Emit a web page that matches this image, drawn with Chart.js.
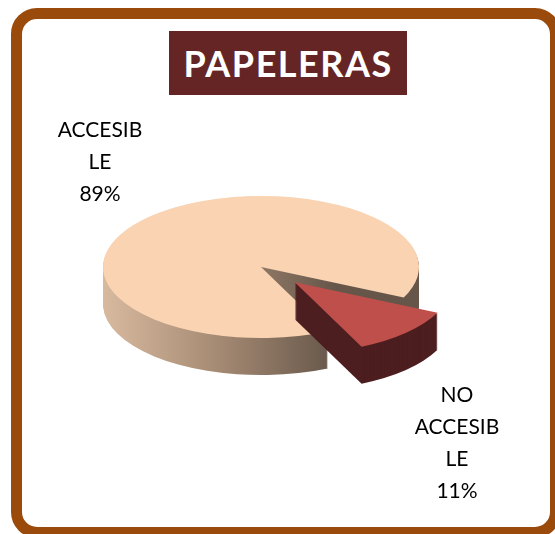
<!DOCTYPE html>
<html>
<head>
<meta charset="utf-8">
<script src="https://cdn.jsdelivr.net/npm/chart.js@4/dist/chart.umd.min.js"></script>
<style>
    body { margin: 0; background: #fff; }
    #wrap { position: relative; width: 555px; height: 534px; overflow: hidden; }
    #frame {
        position: absolute; left: 11px; top: 8px; width: 550px; height: 530px;
        box-sizing: border-box; border: 11px solid #9a4a0a; border-radius: 26px;
    }
    #title {
        position: absolute; left: 169px; top: 31px; width: 238px; height: 64px;
        background: #652525; color: #fff; text-align: center;
        font: bold 36px Lato, sans-serif; line-height: 64px; letter-spacing: 1.5px;
    }
    #chart { position: absolute; left: 0; top: 0; }
</style>
</head>
<body>
<div id="wrap">
    <div id="frame"></div>
    <div id="title">PAPELERAS</div>
    <canvas id="chart" width="555" height="534"></canvas>
</div>
<script>
// Datos
const labels = [['ACCESIB', 'LE'], ['NO', 'ACCESIB', 'LE']];
const valores = [89, 11];

// Estilo
const colores = ['#f9d3b2', '#bf4f4b'];
const explode = [0, 48];       // separacion de la porcion
const DEPTH = 37;              // grosor del pastel
const SQUASH = 0.45;           // inclinacion (alto / ancho)
const labelPos = [{x: 100, y: 137}, {x: 457, y: 402}];

// Ajusta el contexto para dibujar la porcion aplastada y separada
function place(ctx, arc, i, d) {
    const mid = (arc.startAngle + arc.endAngle) / 2;
    ctx.translate(0, d);
    ctx.translate(arc.x, arc.y);
    ctx.scale(1, SQUASH);
    ctx.translate(-arc.x, -arc.y);
    ctx.translate(Math.cos(mid) * explode[i], Math.sin(mid) * explode[i]);
}

function sideFill(ctx, i) {
    if (i === 1) return '#4d1e1f';
    const g = ctx.createLinearGradient(102, 0, 335, 0);
    g.addColorStop(0, '#d8ba9f');
    g.addColorStop(0.5, '#a58a73');
    g.addColorStop(1, '#66564a');
    return g;
}

const pie3d = {
    id: 'pie3d',
    beforeDatasetsDraw(chart) {
        const ctx = chart.ctx;
        const arcs = chart.getDatasetMeta(0).data;
        arcs.forEach(function(arc, i) {
            // lados
            for (let d = DEPTH; d >= 1; d--) {
                ctx.save();
                place(ctx, arc, i, d);
                ctx.beginPath();
                ctx.moveTo(arc.x, arc.y);
                ctx.arc(arc.x, arc.y, arc.outerRadius, arc.startAngle, arc.endAngle);
                ctx.closePath();
                ctx.fillStyle = sideFill(ctx, i);
                ctx.fill();
                ctx.restore();
            }
            // cara superior
            ctx.save();
            place(ctx, arc, i, 0);
            arc.draw(ctx);
            ctx.restore();
        });
        return false;
    },
    afterDraw(chart) {
        const ctx = chart.ctx;
        const total = valores.reduce((a, b) => a + b, 0);
        ctx.save();
        ctx.font = '21px Lato, sans-serif';
        ctx.fillStyle = '#000';
        ctx.textAlign = 'center';
        ctx.textBaseline = 'alphabetic';
        valores.forEach(function(v, i) {
            const lines = labels[i].concat([Math.round(v / total * 100) + '%']);
            lines.forEach(function(t, j) {
                ctx.fillText(t, labelPos[i].x, labelPos[i].y + j * 32);
            });
        });
        ctx.restore();
    }
};

new Chart(document.getElementById('chart'), {
    type: 'pie',
    data: {
        labels: labels,
        datasets: [{
            data: valores,
            backgroundColor: colores,
            borderWidth: 0,
            clip: false
        }]
    },
    options: {
        responsive: false,
        animation: false,
        rotation: 155,
        layout: { padding: { left: 103, right: 136, top: 109, bottom: 109 } },
        plugins: {
            legend: { display: false },
            tooltip: { enabled: false },
            title: { display: false }
        }
    },
    plugins: [pie3d]
});
</script>
</body>
</html>
